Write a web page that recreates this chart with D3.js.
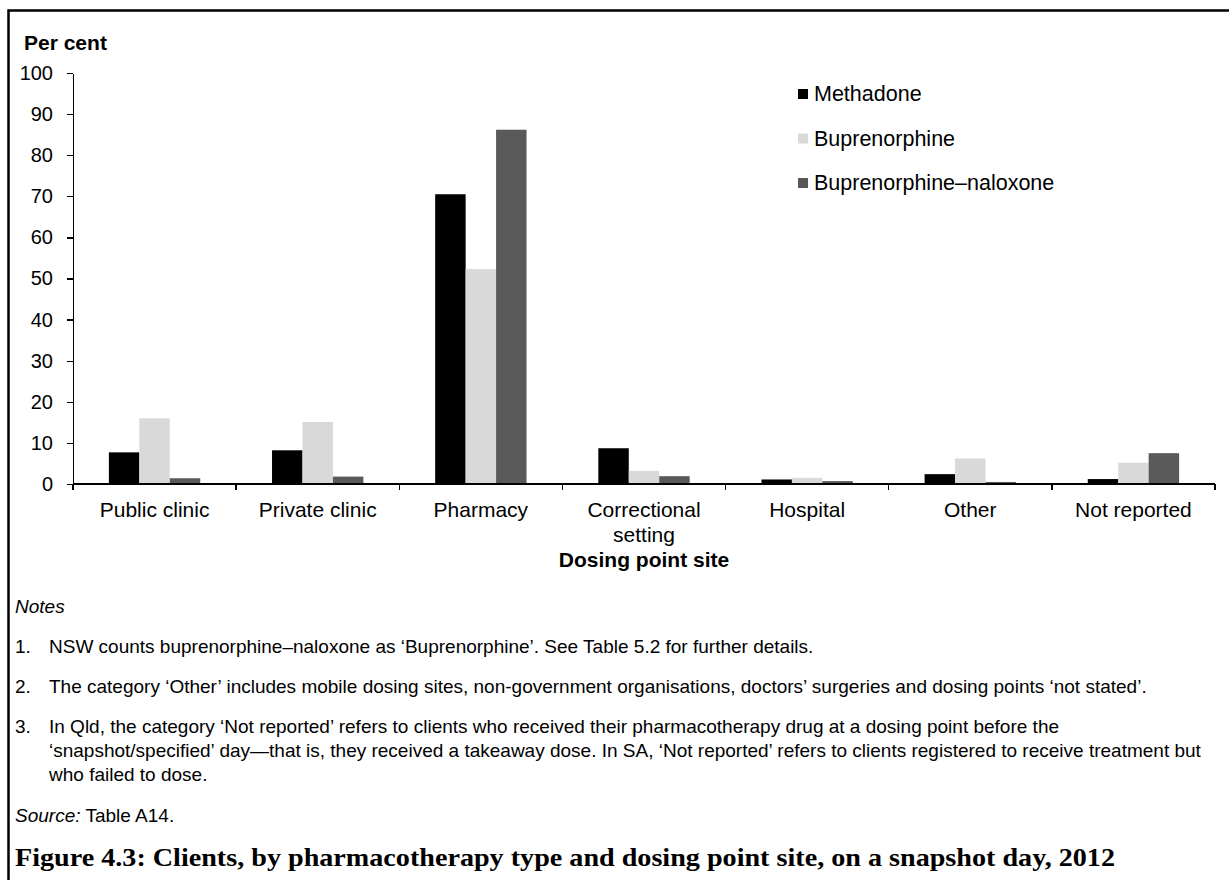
<!DOCTYPE html>
<html lang="en">
<head>
<meta charset="UTF-8">
<title>Figure 4.3</title>
<script src="https://d3js.org/d3.v7.min.js" charset="utf-8"></script>
<style>
  body { margin: 0; background: #fff; }
  svg { display: block; font-family: "Liberation Sans", Arial, sans-serif; }
  .axis path, .axis line { fill: none; stroke: #000; stroke-width: 1.3px; shape-rendering: crispEdges; }
  .axis text { font-size: 20px; fill: #000; }
  .note { font-size: 19px; fill: #000; }
</style>
</head>
<body>
<svg id="chart" width="1229" height="880"></svg>
<script>
  // ---- data ----
  var categories = ["Public clinic", "Private clinic", "Pharmacy", "Correctional setting", "Hospital", "Other", "Not reported"];
  var seriesNames = ["Methadone", "Buprenorphine", "Buprenorphine\u2013naloxone"];
  var methadone = [7.7, 8.2, 70.5, 8.7, 1.1, 2.4, 1.2];
  var buprenorphine = [16.0, 15.1, 52.3, 3.2, 1.5, 6.2, 5.2];
  var bupNaloxone = [1.4, 1.8, 86.2, 1.9, 0.7, 0.5, 7.5];
  var yTicks = [0, 10, 20, 30, 40, 50, 60, 70, 80, 90, 100];
  var colors = ["#000000", "#d9d9d9", "#595959"];

  var seriesValues = [methadone, buprenorphine, bupNaloxone];

  var plotLeft = 73, plotRight = 1215, plotTop = 73, plotBottom = 484;

  var svg = d3.select("#chart");

  // frame around the figure
  svg.append("rect")
    .attr("x", 8.5).attr("y", 10.5)
    .attr("width", 1260).attr("height", 900)
    .style("fill", "white").style("stroke", "black").style("stroke-width", 2.5);

  var x0 = d3.scaleBand().domain(categories).range([plotLeft, plotRight]).padding(0);
  var x1 = d3.scaleBand().domain(seriesNames)
    .range([x0.bandwidth() * 0.22, x0.bandwidth() * 0.78]).padding(0);
  var y = d3.scaleLinear().domain([0, 100]).range([plotBottom, plotTop]);

  // bars
  var groups = svg.selectAll("g.cat")
    .data(categories)
    .enter().append("g")
    .attr("class", "cat")
    .attr("transform", function(d) { return "translate(" + x0(d) + ",0)"; });

  groups.selectAll("rect")
    .data(function(d, i) {
      return seriesNames.map(function(s, j) { return {s: s, j: j, v: seriesValues[j][i]}; });
    })
    .enter().append("rect")
    .attr("x", function(d) { return x1(d.s); })
    .attr("width", x1.bandwidth())
    .attr("y", function(d) { return y(d.v); })
    .attr("height", function(d) { return plotBottom - y(d.v); })
    .style("fill", function(d) { return colors[d.j]; });

  // y axis
  svg.append("g")
    .attr("class", "axis")
    .attr("transform", "translate(" + plotLeft + ",0)")
    .call(d3.axisLeft(y).tickValues(yTicks).tickSize(6).tickPadding(14).tickSizeOuter(0));

  // x axis: ticks at band boundaries
  var xAxisG = svg.append("g")
    .attr("class", "axis")
    .attr("transform", "translate(0," + plotBottom + ")");
  xAxisG.append("line")
    .attr("x1", plotLeft).attr("x2", plotRight).attr("y1", 0).attr("y2", 0);
  var bounds = categories.map(function(c) { return x0(c); }).concat([plotRight]);
  xAxisG.selectAll("line.tick")
    .data(bounds)
    .enter().append("line")
    .attr("class", "tick")
    .attr("x1", function(d) { return d; }).attr("x2", function(d) { return d; })
    .attr("y1", 0).attr("y2", 6);

  // category labels, wrapped to the band width
  var catLabels = svg.selectAll("text.cat")
    .data(categories)
    .enter().append("text")
    .attr("class", "cat")
    .attr("x", function(d) { return x0(d) + x0.bandwidth() / 2; })
    .attr("y", 517)
    .attr("text-anchor", "middle")
    .style("font-size", "21px");

  catLabels.each(function(d) {
    var el = d3.select(this);
    var words = d.split(" ");
    var line = [];
    var tspan = el.append("tspan").attr("x", el.attr("x")).attr("dy", 0);
    words.forEach(function(w) {
      line.push(w);
      tspan.text(line.join(" "));
      if (tspan.node().getComputedTextLength() > x0.bandwidth() - 10 && line.length > 1) {
        line.pop();
        tspan.text(line.join(" "));
        line = [w];
        tspan = el.append("tspan").attr("x", el.attr("x")).attr("dy", 25).text(w);
      }
    });
  });

  // axis titles
  svg.append("text")
    .attr("x", 24).attr("y", 50)
    .style("font-size", "21px").style("font-weight", "bold")
    .text("Per cent");

  svg.append("text")
    .attr("x", (plotLeft + plotRight) / 2).attr("y", 567)
    .attr("text-anchor", "middle")
    .style("font-size", "21px").style("font-weight", "bold")
    .text("Dosing point site");

  // legend
  var legend = svg.selectAll("g.legend")
    .data(seriesNames)
    .enter().append("g")
    .attr("class", "legend")
    .attr("transform", function(d, i) { return "translate(798," + (89 + i * 44.5) + ")"; });
  legend.append("rect")
    .attr("width", 10).attr("height", 10)
    .style("fill", function(d, i) { return colors[i]; });
  legend.append("text")
    .attr("x", 16).attr("y", 12)
    .style("font-size", "21.5px")
    .text(function(d) { return d; });

  // notes
  svg.append("text").attr("class", "note")
    .attr("x", 15).attr("y", 613)
    .style("font-style", "italic")
    .text("Notes");

  var notes = [
    ["NSW counts buprenorphine\u2013naloxone as \u2018Buprenorphine\u2019. See Table 5.2 for further details."],
    ["The category \u2018Other\u2019 includes mobile dosing sites, non-government organisations, doctors\u2019 surgeries and dosing points \u2018not stated\u2019."],
    ["In Qld, the category \u2018Not reported\u2019 refers to clients who received their pharmacotherapy drug at a dosing point before the",
     "\u2018snapshot/specified\u2019 day\u2014that is, they received a takeaway dose. In SA, \u2018Not reported\u2019 refers to clients registered to receive treatment but",
     "who failed to dose."]
  ];
  var noteY = [653, 693, 733];
  notes.forEach(function(lines, i) {
    svg.append("text").attr("class", "note")
      .attr("x", 15).attr("y", noteY[i])
      .text((i + 1) + ".");
    lines.forEach(function(t, k) {
      svg.append("text").attr("class", "note")
        .attr("x", 49).attr("y", noteY[i] + k * 24)
        .text(t);
    });
  });

  var src = svg.append("text").attr("class", "note")
    .attr("x", 15).attr("y", 822);
  src.append("tspan").style("font-style", "italic").text("Source:");
  src.append("tspan").text(" Table A14.");

  svg.append("text")
    .attr("x", 15).attr("y", 866)
    .attr("textLength", 1100)
    .attr("lengthAdjust", "spacingAndGlyphs")
    .style("font-family", "'Liberation Serif', 'DejaVu Serif', serif")
    .style("font-weight", "bold")
    .style("font-size", "26px")
    .text("Figure 4.3: Clients, by pharmacotherapy type and dosing point site, on a snapshot day, 2012");
</script>
</body>
</html>
